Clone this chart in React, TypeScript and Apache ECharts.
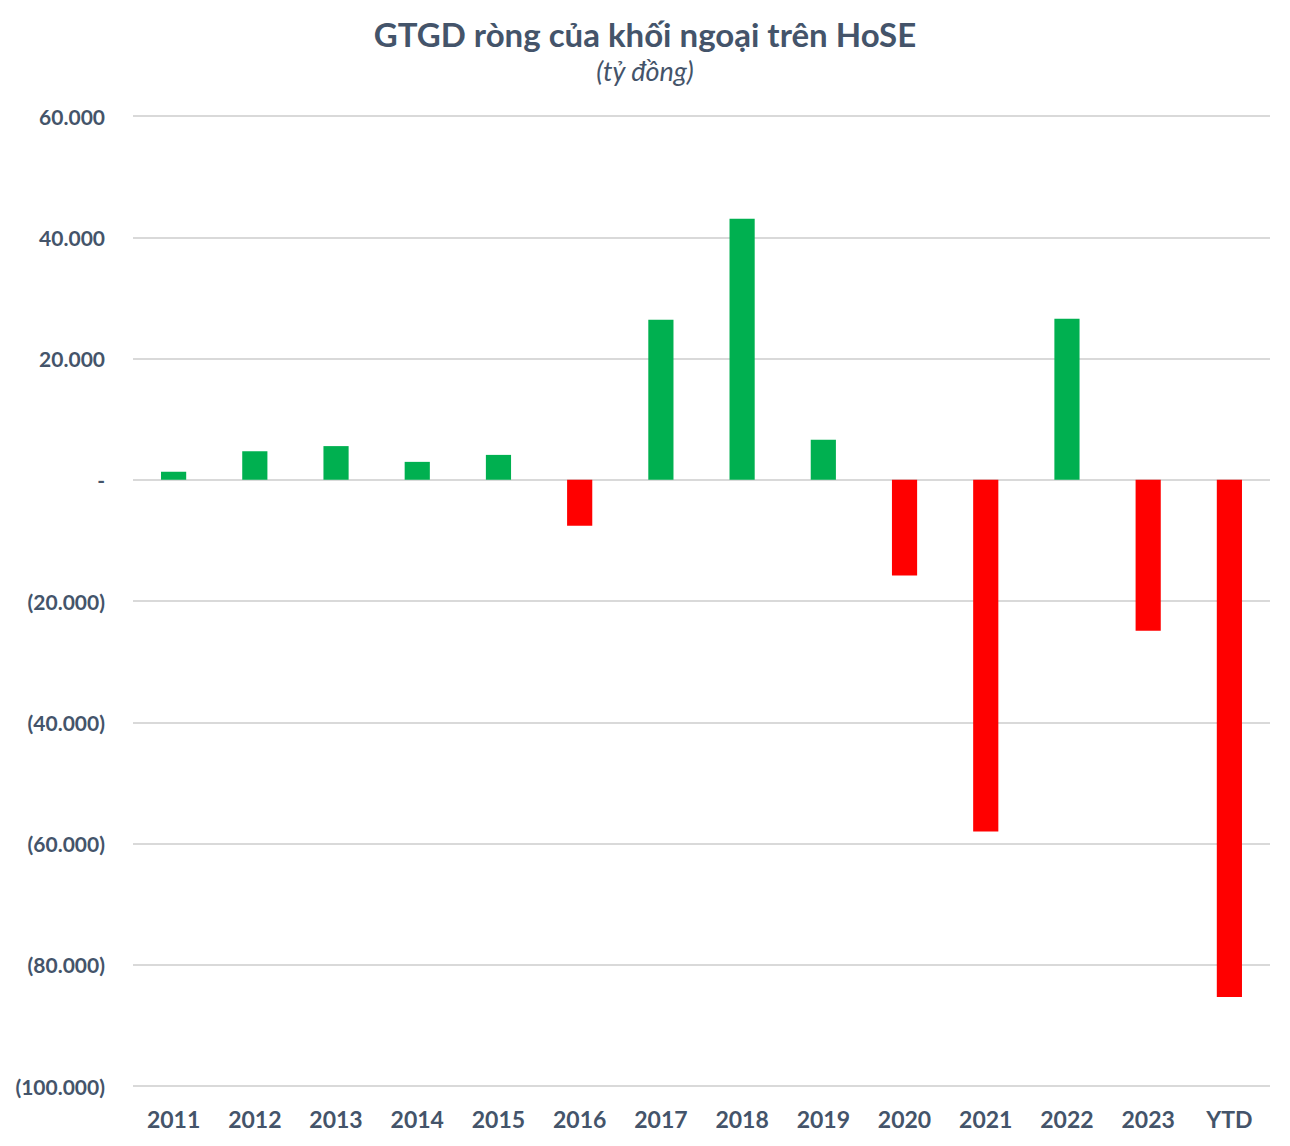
import React, { useEffect, useRef } from "react";
import * as echarts from "echarts";

const categories = ["2011", "2012", "2013", "2014", "2015", "2016", "2017", "2018", "2019", "2020", "2021", "2022", "2023", "YTD"];
const netValues = [1300, 4700, 5550, 2950, 4100, -7600, 26400, 43050, 6600, -15800, -58000, 26550, -24900, -85300];
const yTicks = { min: -100000, max: 60000, interval: 20000 };

const GREEN = "#00B050";
const RED = "#FF0000";
const TEXT = "#44546A";
const FONT = "Lato, 'Open Sans', sans-serif";

function fmt(v: number): string {
  if (v === 0) return "-";
  const s = Math.abs(v).toString().replace(/\B(?=(\d{3})+(?!\d))/g, ".");
  return v < 0 ? `(${s})` : s;
}

export default function App() {
  const ref = useRef<HTMLDivElement>(null);
  useEffect(() => {
    document.body.style.margin = "0";
    const chart = echarts.init(ref.current!, null, { renderer: "svg" });
    chart.setOption({
      animation: false,
      backgroundColor: "#ffffff",
      title: {
        text: "GTGD ròng của khối ngoại trên HoSE",
        subtext: "(tỷ đồng)",
        left: "center",
        top: 12,
        itemGap: 7,
        textStyle: { fontFamily: FONT, fontSize: 33, fontWeight: "bold", color: TEXT },
        subtextStyle: { fontFamily: FONT, fontSize: 27, fontStyle: "italic", color: TEXT },
      },
      grid: { left: 133, right: 20, top: 116, bottom: 60, containLabel: false },
      xAxis: {
        type: "category",
        data: categories,
        axisLine: { show: false },
        axisTick: { show: false },
        axisLabel: { fontFamily: FONT, fontSize: 23, fontWeight: "bold", color: TEXT, margin: 21 },
      },
      yAxis: {
        type: "value",
        min: yTicks.min,
        max: yTicks.max,
        interval: yTicks.interval,
        axisLine: { show: false },
        axisTick: { show: false },
        splitLine: { lineStyle: { color: "#D9D9D9", width: 2 } },
        axisLabel: {
          fontFamily: FONT,
          fontSize: 21,
          fontWeight: "bold",
          color: TEXT,
          margin: 28,
          formatter: (v: number) => fmt(v),
        },
      },
      series: [
        {
          type: "bar",
          barWidth: "31%",
          data: netValues.map((v) => ({ value: v, itemStyle: { color: v >= 0 ? GREEN : RED } })),
        },
      ],
    });
    return () => chart.dispose();
  }, []);
  return <div ref={ref} style={{ width: 1290, height: 1146 }} />;
}
